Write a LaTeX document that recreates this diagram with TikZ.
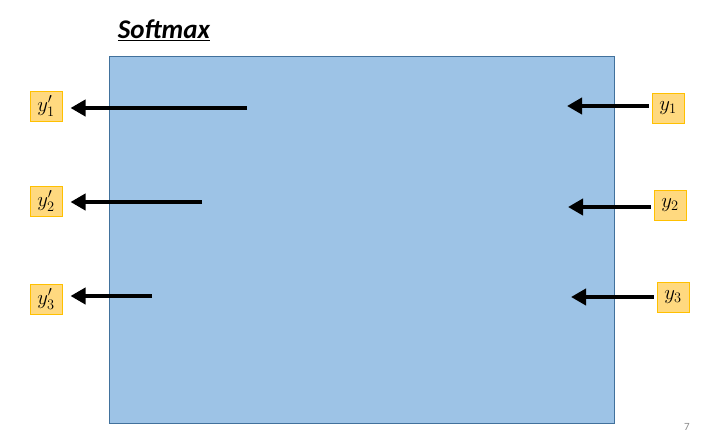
\documentclass[tikz,border=0pt]{standalone}
\usepackage{fontspec}
\setmainfont{Carlito}
\usetikzlibrary{arrows.meta}
\definecolor{rectfill}{HTML}{9DC3E6}
\definecolor{rectdraw}{HTML}{41719C}
\definecolor{lblfill}{HTML}{FFD97F}
\definecolor{lbldraw}{HTML}{FFC000}
\definecolor{pagegray}{HTML}{8C8C8C}
\begin{document}
\begin{tikzpicture}[x=1pt,y=-1pt,
  lbl/.style={draw=lbldraw,fill=lblfill,line width=1pt,minimum width=32pt,minimum height=30pt,inner sep=0pt,font=\fontsize{21}{24}\selectfont},
  bigarrow/.style={line width=4pt,-{Triangle[length=15pt,width=16pt]}}]
\useasboundingbox (0,0) rectangle (716,442);
\node[draw=rectdraw,fill=rectfill,line width=0.8pt,minimum width=505pt,minimum height=367pt,inner sep=0pt] (softmax) at (361.5,239.5) {};
\node[font=\fontsize{27}{32}\selectfont\bfseries\itshape] (title) at (164,30) {\underline{Softmax}};
% output labels
\node[lbl] (o1) at (46,106) {$y'_1$};
\node[lbl] (o2) at (46,201) {$y'_2$};
\node[lbl] (o3) at (46,299) {$y'_3$};
% input labels
\node[lbl] (i1) at (668,108) {$y_1$};
\node[lbl] (i2) at (670,205) {$y_2$};
\node[lbl] (i3) at (673,297) {$y_3$};
% free ends
\coordinate (s1) at (247,108);
\coordinate (s2) at (202,202);
\coordinate (s3) at (152,296);
\coordinate (e1) at (567,106);
\coordinate (e2) at (568,207);
\coordinate (e3) at (571,297);
\draw[bigarrow,shorten >=8pt] (s1) -- (s1 -| o1.east);
\draw[bigarrow,shorten >=8pt] (s2) -- (s2 -| o2.east);
\draw[bigarrow,shorten >=8pt] (s3) -- (s3 -| o3.east);
\draw[bigarrow,shorten <=3pt] (e1 -| i1.west) -- (e1);
\draw[bigarrow,shorten <=3pt] (e2 -| i2.west) -- (e2);
\draw[bigarrow,shorten <=3pt] (e3 -| i3.west) -- (e3);
\node[text=pagegray,font=\fontsize{11}{12}\selectfont] (page) at (687,427) {7};
\end{tikzpicture}
\end{document}
